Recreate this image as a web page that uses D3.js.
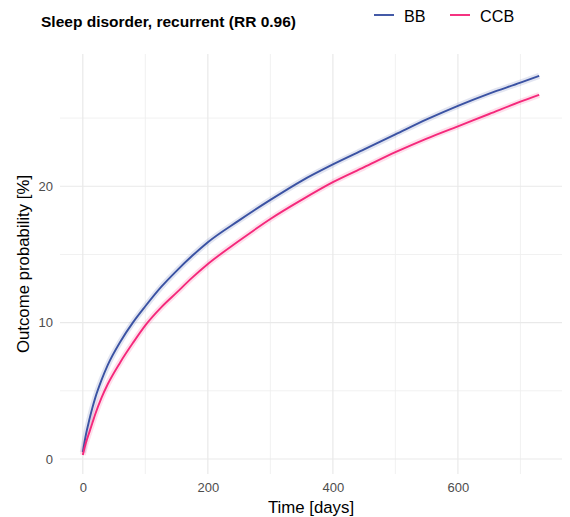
<!DOCTYPE html>
<html>
<head>
<meta charset="utf-8">
<script src="https://cdn.jsdelivr.net/npm/d3@7"></script>
<style>
  body { margin: 0; background: #fff; }
  svg { display: block; font-family: "Liberation Sans", Arial, Helvetica, sans-serif; }
</style>
</head>
<body>
<div id="chart-area"></div>
<script>
// values (cumulative outcome probability, %)
const days = [0, 5, 10, 15, 20, 30, 40, 60, 80, 100, 125, 150, 175, 200, 250, 300, 350, 400, 450, 500, 550, 600, 650, 700, 730]
const bbValues = [0.5, 1.8, 2.8, 3.7, 4.5, 5.8, 6.9, 8.6, 10.0, 11.2, 12.6, 13.8, 14.9, 15.9, 17.5, 19.0, 20.4, 21.6, 22.7, 23.8, 24.9, 25.9, 26.8, 27.6, 28.1]
const ccbValues = [0.3, 1.2, 1.9, 2.6, 3.3, 4.5, 5.5, 7.1, 8.5, 9.8, 11.1, 12.2, 13.3, 14.3, 16.0, 17.6, 19.0, 20.3, 21.4, 22.5, 23.5, 24.4, 25.3, 26.2, 26.7]
const seriesNames = ["BB", "CCB"]
const xTicks = [0, 200, 400, 600]
const xMinor = [100, 300, 500, 700]
const yTicks = [0, 10, 20]
const yMinor = [5, 15, 25]

const colors = {BB: "#3a52a3", CCB: "#f5287b"}

const width = 570, height = 517
const panel = {left: 60, right: 562, top: 54, bottom: 474}

const svg = d3.select("#chart-area")
    .append("svg")
    .attr("width", width)
    .attr("height", height)

// scales (ggplot style 5% expansion)
const x = d3.scaleLinear().domain([-36.5, 766.5]).range([panel.left, panel.right])
const y = d3.scaleLinear().domain([-1.1, 29.7]).range([panel.bottom, panel.top])

// gridlines
const grid = svg.append("g")
grid.selectAll(".vminor").data(xMinor).enter().append("line")
    .attr("x1", d => x(d)).attr("x2", d => x(d))
    .attr("y1", panel.top).attr("y2", panel.bottom)
    .attr("stroke", "#efefef").attr("stroke-width", 0.9)
grid.selectAll(".hminor").data(yMinor).enter().append("line")
    .attr("x1", panel.left).attr("x2", panel.right)
    .attr("y1", d => y(d)).attr("y2", d => y(d))
    .attr("stroke", "#efefef").attr("stroke-width", 0.9)
grid.selectAll(".vmajor").data(xTicks).enter().append("line")
    .attr("x1", d => x(d)).attr("x2", d => x(d))
    .attr("y1", panel.top).attr("y2", panel.bottom)
    .attr("stroke", "#e9e9e9").attr("stroke-width", 1.2)
grid.selectAll(".hmajor").data(yTicks).enter().append("line")
    .attr("x1", panel.left).attr("x2", panel.right)
    .attr("y1", d => y(d)).attr("y2", d => y(d))
    .attr("stroke", "#e9e9e9").attr("stroke-width", 1.2)

// axes
const xAxis = svg.append("g")
    .attr("transform", `translate(0,${panel.bottom})`)
    .call(d3.axisBottom(x).tickValues(xTicks).tickSize(0).tickPadding(9))
xAxis.select(".domain").remove()
xAxis.selectAll("text").attr("font-size", 13).attr("fill", "#4d4d4d")
    .style("font-family", "Liberation Sans, Arial, sans-serif")

const yAxis = svg.append("g")
    .attr("transform", `translate(${panel.left},0)`)
    .call(d3.axisLeft(y).tickValues(yTicks).tickSize(0).tickPadding(7))
yAxis.select(".domain").remove()
yAxis.selectAll("text").attr("font-size", 13).attr("fill", "#4d4d4d")
    .style("font-family", "Liberation Sans, Arial, sans-serif")

// lines
const series = seriesNames.map(name => ({
    name: name,
    values: days.map((d, i) => ({day: d, v: (name === "BB" ? bbValues : ccbValues)[i]}))
}))

const line = d3.line()
    .x(d => x(d.day))
    .y(d => y(d.v))
    .curve(d3.curveMonotoneX)

// faint confidence band
svg.selectAll(".band").data(series).enter().append("path")
    .attr("d", d => line(d.values))
    .attr("fill", "none")
    .attr("stroke", d => colors[d.name])
    .attr("stroke-opacity", 0.15)
    .attr("stroke-width", 6)

svg.selectAll(".series").data(series).enter().append("path")
    .attr("d", d => line(d.values))
    .attr("fill", "none")
    .attr("stroke", d => colors[d.name])
    .attr("stroke-width", 1.9)
    .attr("stroke-linejoin", "round")

// titles
svg.append("text")
    .attr("x", 41).attr("y", 26.5)
    .attr("font-size", 15.5).attr("font-weight", "bold")
    .text("Sleep disorder, recurrent (RR 0.96)")

svg.append("text")
    .attr("x", (panel.left + panel.right) / 2).attr("y", 512.5)
    .attr("text-anchor", "middle").attr("font-size", 16.8)
    .text("Time [days]")

svg.append("text")
    .attr("transform", `translate(28.5,${(panel.top + panel.bottom) / 2}) rotate(-90)`)
    .attr("text-anchor", "middle").attr("font-size", 16.8)
    .text("Outcome probability [%]")

// legend
const legendX = [374, 450]
const legend = svg.selectAll(".legend").data(seriesNames).enter().append("g")
    .attr("transform", (d, i) => `translate(${legendX[i]},0)`)
legend.append("line")
    .attr("x1", 0).attr("x2", 20).attr("y1", 15).attr("y2", 15)
    .attr("stroke", d => colors[d]).attr("stroke-width", 1.9)
legend.append("text")
    .attr("x", 30).attr("y", 22)
    .attr("font-size", 16.2)
    .text(d => d)
</script>
</body>
</html>
